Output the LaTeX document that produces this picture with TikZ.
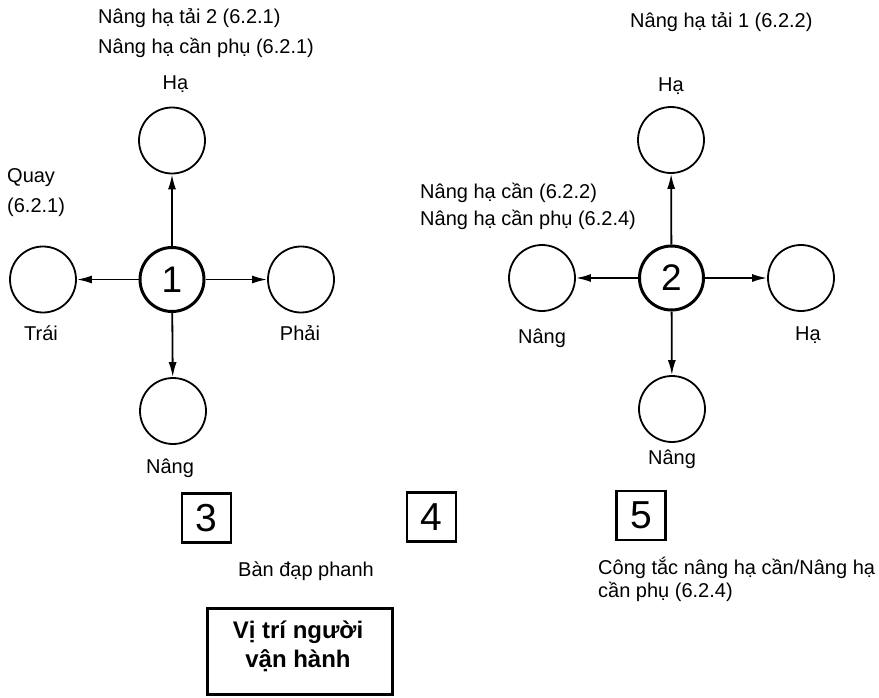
\documentclass[tikz,border=0pt]{standalone}
\usepackage{fontspec}
\setmainfont{Liberation Sans}
\usetikzlibrary{arrows.meta}
\tikzset{
  lbl/.style={inner sep=0pt, font=\fontsize{20}{24}\selectfont},
  outer/.style={circle, draw, line width=1.8pt, minimum size=66pt, inner sep=0pt},
  hub/.style={circle, draw, line width=3pt, minimum size=64pt, inner sep=0pt, font=\fontsize{37}{40}\selectfont},
  numbox/.style={draw, line width=2.5pt, minimum width=49pt, minimum height=49pt, inner sep=0pt, font=\fontsize{39}{40}\selectfont},
  conn/.style={line width=1.8pt, -{Latex[length=15pt,width=8pt]}},
}
\begin{document}
\begin{tikzpicture}[x=1pt,y=-1pt]
\useasboundingbox (0,0) rectangle (879,697);
% ---- diagram 1
\node[hub] (h1) at (172,279.5) {1};
\node[outer] (t1) at (172,140.5) {};
\node[outer] (l1) at (43,279.5) {};
\node[outer] (r1) at (301,279.5) {};
\node[outer] (b1) at (173,411) {};
\draw[conn] (h1) -- (t1);
\draw[conn] (h1) -- (l1);
\draw[conn] (h1) -- (r1);
\draw[conn] (h1) -- (b1);
\node[lbl, anchor=base west] (a1) at (98,23.5) {Nâng hạ tải 2 (6.2.1)};
\node[lbl, anchor=base west] (a2) at (98,53.5) {Nâng hạ cần phụ (6.2.1)};
\node[lbl, anchor=base] (a3) at (175.5,89) {Hạ};
\node[lbl, anchor=base west] (a4) at (7,182) {Quay};
\node[lbl, anchor=base west] (a5) at (7,212) {(6.2.1)};
\node[lbl, anchor=base] (a6) at (41,340) {Trái};
\node[lbl, anchor=base] (a7) at (300,340) {Phải};
\node[lbl, anchor=base] (a8) at (170,473) {Nâng};
% ---- diagram 2
\node[hub] (h2) at (671.5,278) {2};
\node[outer] (t2) at (671,140) {};
\node[outer] (l2) at (542,278) {};
\node[outer] (r2) at (801,278) {};
\node[outer] (b2) at (672,409) {};
\draw[conn] (h2) -- (t2);
\draw[conn] (h2) -- (l2);
\draw[conn] (h2) -- (r2);
\draw[conn] (h2) -- (b2);
\node[lbl, anchor=base west] (b1t) at (630,27) {Nâng hạ tải 1 (6.2.2)};
\node[lbl, anchor=base] (b2t) at (671,91) {Hạ};
\node[lbl, anchor=base west] (b3t) at (420,198) {Nâng hạ cần (6.2.2)};
\node[lbl, anchor=base west] (b4t) at (420,225) {Nâng hạ cần phụ (6.2.4)};
\node[lbl, anchor=base] (b5t) at (542,343) {Nâng};
\node[lbl, anchor=base] (b6t) at (808,340) {Hạ};
\node[lbl, anchor=base] (b7t) at (672,464) {Nâng};
% ---- bottom
\node[numbox] (n3) at (206.5,518) {3};
\node[numbox] (n4) at (431.5,517) {4};
\node[numbox] (n5) at (641,515.5) {5};
\node[lbl, anchor=base] (pedal) at (306,576) {Bàn đạp phanh};
\node[lbl, anchor=base west] (sw1) at (598,574) {Công tắc nâng hạ cần/Nâng hạ};
\node[lbl, anchor=base west] (sw2) at (598,597) {cần phụ (6.2.4)};
\node[draw, line width=3pt, minimum width=185pt, minimum height=86pt, inner sep=0pt] (op) at (299.5,651) {};
\node[inner sep=0pt, anchor=base, font=\bfseries\fontsize{24}{29}\selectfont] (op1) at (298,638) {Vị trí người};
\node[inner sep=0pt, anchor=base, font=\bfseries\fontsize{24}{29}\selectfont] (op2) at (298,667) {vận hành};
\end{tikzpicture}
\end{document}
